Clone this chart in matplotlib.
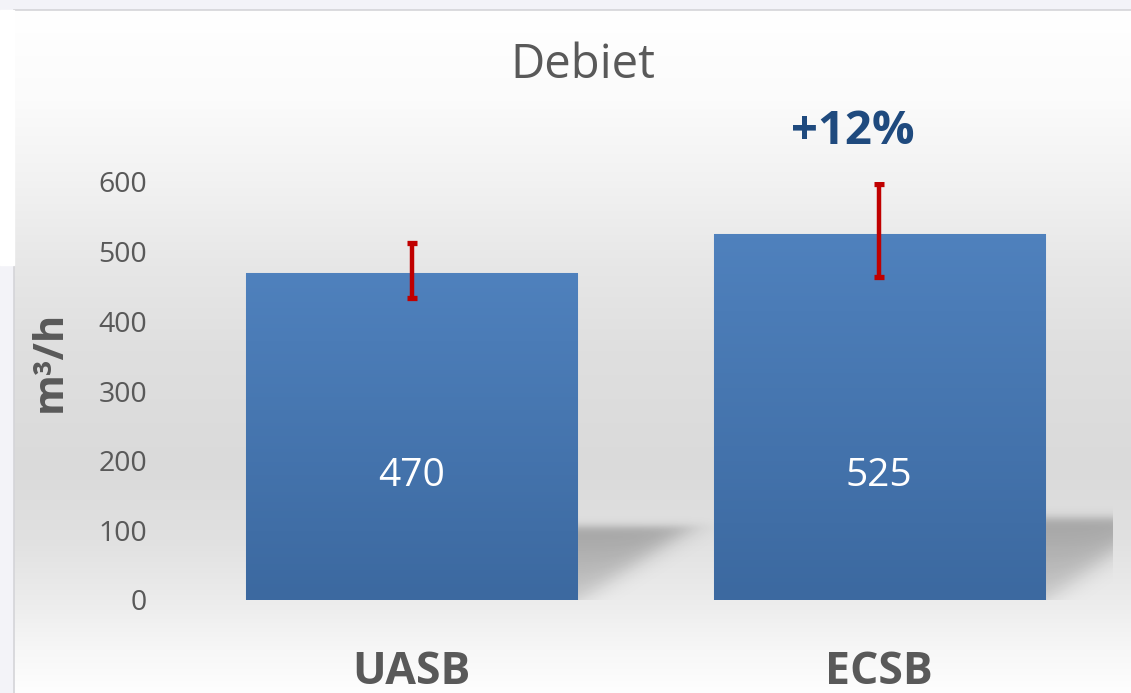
import numpy as np
import matplotlib
matplotlib.use("Agg")
import matplotlib.pyplot as plt
from matplotlib.patches import Rectangle

plt.rcParams['font.family'] = ['Open Sans', 'DejaVu Sans']

# data
categories = ["UASB", "ECSB"]
values = [470, 525]
err_low = [37, 62]
err_high = [43, 72]
yticks = [0, 100, 200, 300, 400, 500, 600]

TEXT = '#595959'
BAR_TOP = '#4f81bd'
BAR_BOTTOM = '#3c69a0'
ERR = '#c00000'
PCT = '#1f4a7e'

W, H = 1131, 693
fig = plt.figure(figsize=(W / 100, H / 100), dpi=100)
fig.patch.set_facecolor('#f3f3f8')

# white strip left of the frame (top part)
fig.patches.append(Rectangle((0, 1 - 265 / H), 14 / W, 255 / H,
                             transform=fig.transFigure, color='white', zorder=0))

# chart frame with vertical gradient
bg = fig.add_axes([14 / W, 0, 1 - 14 / W, (H - 10) / H])
rows = np.arange(10, H)
stops_y = [10, 100, 180, 265, 350, 470, 540, 600, 650, 693]
stops_v = [255, 251, 242, 231, 223, 218, 225, 236, 247, 254]
grad = np.interp(rows, stops_y, stops_v) / 255.0
grad_img = np.repeat(np.repeat(grad[:, None, None], 3, axis=2), 4, axis=1)
bg.imshow(grad_img, aspect='auto', extent=[0, 1, 0, 1], interpolation='nearest')
bg.set_xticks([])
bg.set_yticks([])
for side in ['right', 'bottom']:
    bg.spines[side].set_visible(False)
for side in ['left', 'top']:
    bg.spines[side].set_color('#d4d4d8')
    bg.spines[side].set_linewidth(1.2)

# plot area
ax = fig.add_axes([177.75 / W, 93 / H, 935.25 / W, 418 / H])
ax.patch.set_alpha(0)
for s in ax.spines.values():
    s.set_visible(False)

x = np.arange(len(categories))
width = 0.708
ax.set_xlim(-0.5, 1.5)
ax.set_ylim(0, 600)

# perspective shadows behind bars
sw = 0.248
for xi, v in zip(x, values):
    x0 = xi + width / 2
    sh = 0.232 * v
    xs = np.linspace(x0 - 0.05, x0 + sw + 0.06, 240)
    ys = np.linspace(0, sh + 15, 200)
    X, Y = np.meshgrid(xs, ys)
    u = (X - x0) / sw
    t = Y / sh
    a = 1 / (1 + np.exp(-(t - u + 0.03) * 11)) * 1 / (1 + np.exp(-(0.96 - t) * 30))
    a = a * (0.15 + 0.12 * np.clip(t, 0, 1))
    img = np.zeros(X.shape + (4,))
    img[..., 3] = a
    ax.imshow(img, extent=[xs[0], xs[-1], 0, ys[-1]], origin='lower',
              aspect='auto', zorder=1, interpolation='bilinear')

bars = ax.bar(x, values, width=width, color=BAR_TOP, edgecolor='#9fb7d8',
              linewidth=0.8, zorder=2)
bar_grad = np.linspace(0, 1, 100)[:, None]
cm = matplotlib.colors.LinearSegmentedColormap.from_list('b', [BAR_BOTTOM, BAR_TOP])
for b in bars:
    im = ax.imshow(bar_grad, cmap=cm, origin='lower', aspect='auto',
                   extent=[b.get_x(), b.get_x() + b.get_width(), 0, b.get_height()],
                   zorder=2.5)
    im.set_clip_path(b)

ax.errorbar(x, values, yerr=[err_low, err_high], fmt='none', ecolor=ERR,
            elinewidth=3.2, capsize=3.8, capthick=3.8, zorder=4)

for xi, v in zip(x, values):
    ax.text(xi, 178, str(v), ha='center', va='center', color='white',
            fontsize=28, zorder=5)

pct = (values[1] / values[0] - 1) * 100
ax.text(0.943, 672, "+%d%%" % round(pct), ha='center', va='center', color=PCT,
        fontsize=34, fontweight='bold', clip_on=False)

ax.set_yticks(yticks)
ax.set_yticklabels([str(t) for t in yticks])
ax.set_xticks(x)
ax.set_xticklabels(categories, fontsize=32, fontweight='bold', color=TEXT)
ax.tick_params(axis='y', length=0, pad=22, labelsize=20.5, labelcolor=TEXT)
ax.tick_params(axis='x', length=0, pad=36)

fig.text(583 / W, 1 - 65 / H, "Debiet", ha='center', va='center',
         fontsize=34, color=TEXT)
fig.text(50 / W, 1 - 361 / H, "m³/h", ha='center', va='center', rotation=90,
         fontsize=30, fontweight='bold', color=TEXT)

fig.savefig('out.png', dpi=100)
